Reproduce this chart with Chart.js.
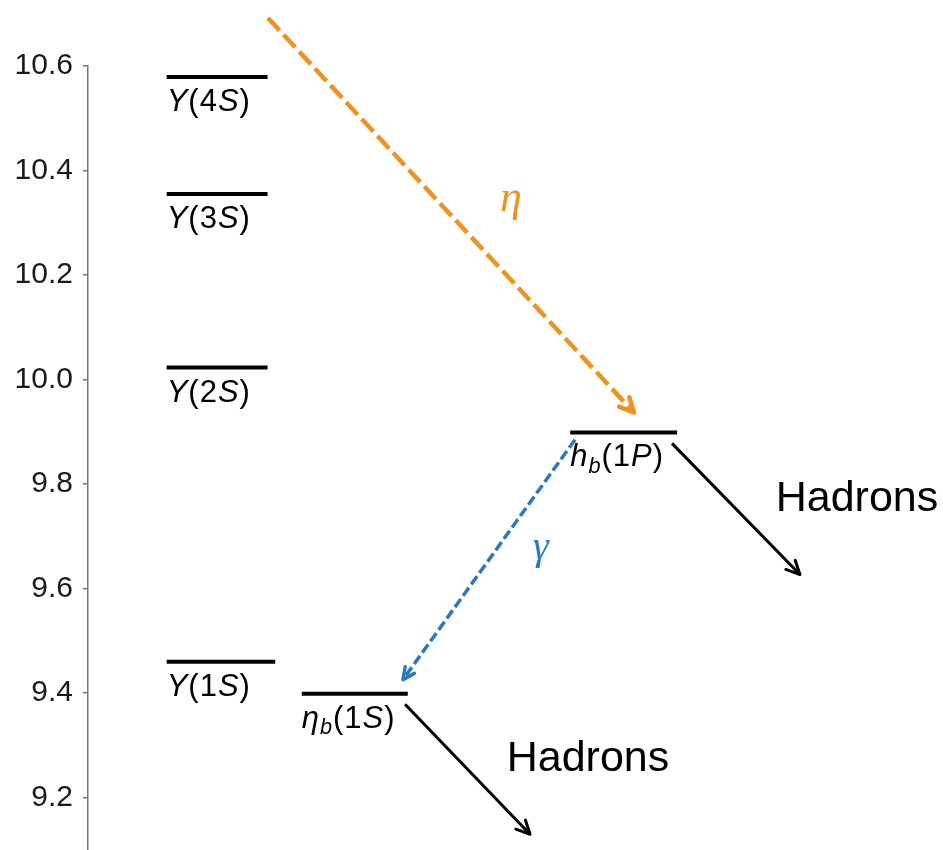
<!DOCTYPE html>
<html>
<head>
<meta charset="utf-8">
<title>Bottomonium levels</title>
<script src="https://cdn.jsdelivr.net/npm/chart.js@4/dist/chart.umd.min.js"></script>
<style>
  html, body { margin: 0; padding: 0; background: #fff; }
  #wrap { width: 943px; height: 850px; }
</style>
</head>
<body>
<div id="wrap"><canvas id="levels" width="943" height="850"></canvas></div>
<script>
// mass axis (GeV)
const yTicks = [9.2, 9.4, 9.6, 9.8, 10.0, 10.2, 10.4, 10.6];

// states: name, mass, horizontal span of the level bar
const levelNames = ['Υ(4S)', 'Υ(3S)', 'Υ(2S)', 'Υ(1S)', 'h_b(1P)', 'η_b(1S)'];
const levelMasses = [10.579, 10.355, 10.023, 9.460, 9.899, 9.399];
const levelStart = [0.92, 0.92, 0.92, 0.92, 5.64, 2.50];
const levelEnd = [2.10, 2.10, 2.10, 2.19, 6.89, 3.74];

// transitions: start / end point and where the label sits
const transNames = ['η', 'γ', 'Hadrons', 'Hadrons'];
const transFromX = [2.105, 5.696, 6.830, 3.708];
const transFromM = [10.692, 9.885, 9.878, 9.379];
const transToX = [6.386, 3.684, 8.327, 5.170];
const transToM = [9.937, 9.426, 9.627, 9.130];
const transLabelX = [4.947, 5.298, 8.994, 5.848];
const transLabelM = [10.323, 9.656, 9.748, 9.2505];

const transStyle = [
  { color: '#f0921f', width: 4.5, dash: [17, 6], head: 16, font: 'italic 44px "Liberation Serif"' },
  { color: '#2b7bba', width: 3.5, dash: [10, 4], head: 13, font: 'italic 40px "Liberation Serif"' },
  { color: '#000000', width: 3, dash: [], head: 15, font: '43px "Liberation Sans"' },
  { color: '#000000', width: 3, dash: [], head: 15, font: '43px "Liberation Sans"' }
];

const datasets = [];
levelNames.forEach((name, i) => {
  datasets.push({
    label: name,
    kind: 'level',
    data: [{ x: levelStart[i], y: levelMasses[i] }, { x: levelEnd[i], y: levelMasses[i] }],
    showLine: true,
    borderColor: '#000',
    borderWidth: 4,
    pointRadius: 0,
    clip: false
  });
});
transNames.forEach((name, i) => {
  const st = transStyle[i];
  datasets.push({
    label: name,
    kind: 'arrow',
    idx: i,
    data: [{ x: transFromX[i], y: transFromM[i] }, { x: transToX[i], y: transToM[i] }],
    showLine: true,
    borderColor: st.color,
    borderWidth: st.width,
    borderDash: st.dash,
    borderCapStyle: 'butt',
    pointRadius: 0,
    clip: false
  });
});

// split "h_b(1P)" into pieces: letters italic, "_x" subscript
function richParts(name) {
  const parts = [];
  for (let k = 0; k < name.length; k++) {
    const c = name[k];
    if (c === '_') {
      parts.push({ t: name[k + 1], it: true, sub: true });
      k++;
    } else {
      parts.push({ t: c, it: /\p{L}/u.test(c), sub: false });
    }
  }
  return parts;
}

function drawRich(ctx, name, x, y, size) {
  let cx = x;
  for (const p of richParts(name)) {
    const s = p.sub ? size * 0.7 : size;
    ctx.font = (p.it ? 'italic ' : '') + s + 'px "Liberation Sans"';
    ctx.fillText(p.t, cx, y + (p.sub ? size * 0.2 : 0));
    cx += ctx.measureText(p.t).width + 1;
  }
}

const diagramDecor = {
  id: 'diagramDecor',
  afterDatasetsDraw(chart) {
    const ctx = chart.ctx;
    const xs = chart.scales.x;
    const ys = chart.scales.y;
    ctx.save();
    ctx.textBaseline = 'alphabetic';

    // level names under each bar
    ctx.fillStyle = '#000';
    ctx.textAlign = 'left';
    levelNames.forEach((name, i) => {
      const px = xs.getPixelForValue(levelStart[i]);
      const py = ys.getPixelForValue(levelMasses[i]);
      drawRich(ctx, name, px, py + 34, 31);
    });

    // arrow heads and transition labels
    chart.data.datasets.forEach((ds, di) => {
      if (ds.kind !== 'arrow') return;
      const st = transStyle[ds.idx];
      const pts = chart.getDatasetMeta(di).data;
      const a = pts[0], b = pts[1];
      const ang = Math.atan2(b.y - a.y, b.x - a.x);
      ctx.strokeStyle = st.color;
      ctx.lineWidth = st.width;
      ctx.setLineDash([]);
      ctx.lineCap = 'round';
      ctx.beginPath();
      [-0.45, 0.45].forEach(off => {
        ctx.moveTo(b.x, b.y);
        ctx.lineTo(b.x - st.head * Math.cos(ang + off), b.y - st.head * Math.sin(ang + off));
      });
      ctx.stroke();

      ctx.fillStyle = st.color;
      ctx.font = st.font;
      ctx.textAlign = 'center';
      ctx.fillText(transNames[ds.idx],
        xs.getPixelForValue(transLabelX[ds.idx]),
        ys.getPixelForValue(transLabelM[ds.idx]));
    });
    ctx.restore();
  }
};

new Chart(document.getElementById('levels'), {
  type: 'scatter',
  data: { datasets },
  options: {
    responsive: false,
    animation: false,
    devicePixelRatio: 1,
    layout: { padding: { top: 66, right: 0, bottom: 0, left: 0 } },
    plugins: {
      legend: { display: false },
      tooltip: { enabled: false }
    },
    scales: {
      x: { type: 'linear', min: 0, max: 10, display: false },
      y: {
        type: 'linear',
        min: 9.1,
        max: 10.6,
        afterBuildTicks: scale => { scale.ticks = yTicks.map(v => ({ value: v })); },
        afterFit: scale => {
          scale.width = 88;
          scale.paddingTop = 0;
          scale.paddingBottom = 0;
        },
        ticks: {
          padding: 10,
          color: '#1a1a1a',
          font: { family: 'Liberation Sans', size: 30 },
          callback: v => Number(v).toFixed(1)
        },
        grid: {
          drawOnChartArea: false,
          drawTicks: true,
          tickLength: 5,
          color: '#777',
          lineWidth: 1.5
        },
        border: { display: true, color: '#777', width: 1.5 }
      }
    }
  },
  plugins: [diagramDecor]
});
</script>
</body>
</html>
